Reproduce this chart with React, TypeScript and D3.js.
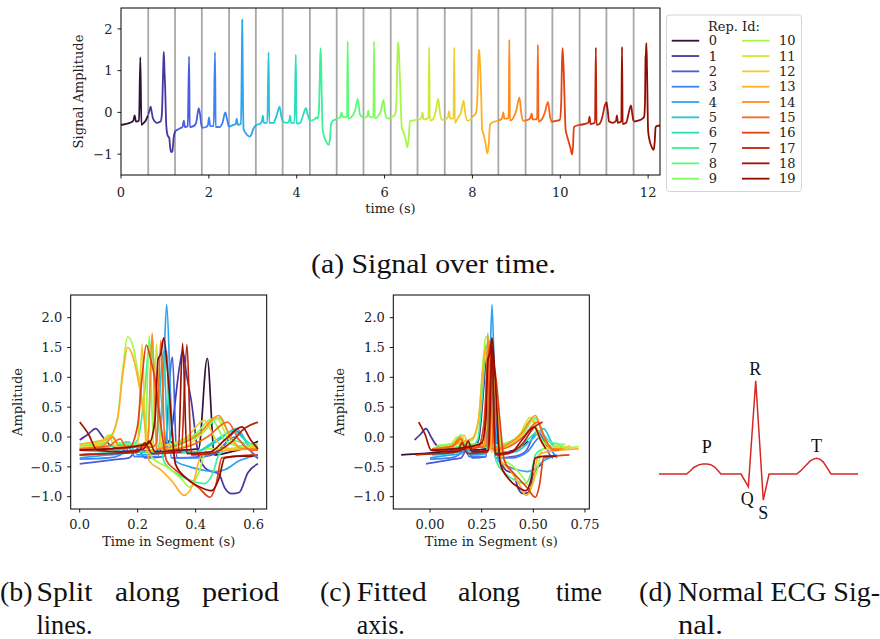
import React from 'react';
import * as d3 from 'd3';

// ---- Data: each repetition (heart beat) as [time within segment (s), amplitude] ----
const rep0: [number, number][] = [[0,-0.3],[0.1,-0.28],[0.2,-0.25],[0.28,-0.2],[0.31,-0.07],[0.34,-0.22],[0.41,-0.2],[0.44,1.32],[0.465,-0.3],[0.52,-0.25],[0.56,-0.2],[0.615,-0.07]];
const rep1: [number, number][] = [[0,-0.05],[0.03,0.05],[0.055,0.14],[0.08,0.0],[0.11,-0.15],[0.2,-0.25],[0.28,-0.22],[0.31,-0.05],[0.345,1.2],[0.355,1.45],[0.37,1.0],[0.385,0.6],[0.41,-0.3],[0.44,-0.55],[0.48,-0.62],[0.5,-0.85],[0.525,-0.95],[0.55,-0.93],[0.58,-0.6],[0.615,-0.45]];
const rep2: [number, number][] = [[0,-0.45],[0.05,-0.42],[0.12,-0.38],[0.17,-0.35],[0.2,-0.2],[0.225,-0.35],[0.29,-0.33],[0.32,1.34],[0.335,-0.35],[0.42,-0.33],[0.48,-0.25],[0.54,0.1],[0.57,-0.05],[0.6,-0.3],[0.615,-0.36]];
const rep3: [number, number][] = [[0,-0.37],[0.1,-0.35],[0.14,-0.3],[0.165,-0.12],[0.19,-0.33],[0.27,-0.33],[0.3,1.44],[0.315,-0.35],[0.4,-0.35],[0.47,-0.25],[0.535,0.0],[0.57,-0.15],[0.615,-0.35]];
const rep4: [number, number][] = [[0,-0.35],[0.1,-0.3],[0.15,-0.28],[0.175,-0.15],[0.2,-0.3],[0.27,-0.28],[0.29,1.2],[0.3,2.22],[0.315,0.5],[0.33,-0.4],[0.38,-0.5],[0.42,-0.55],[0.47,-0.58],[0.5,-0.55],[0.55,-0.4],[0.615,-0.3]];
const rep5: [number, number][] = [[0,-0.3],[0.1,-0.27],[0.14,-0.2],[0.16,-0.08],[0.18,-0.25],[0.26,-0.25],[0.29,1.44],[0.305,-0.25],[0.4,-0.25],[0.48,-0.05],[0.54,0.14],[0.58,-0.1],[0.615,-0.22]];
const rep6: [number, number][] = [[0,-0.22],[0.1,-0.25],[0.15,-0.2],[0.17,-0.08],[0.19,-0.25],[0.27,-0.25],[0.3,1.38],[0.315,-0.27],[0.4,-0.25],[0.47,-0.05],[0.53,0.1],[0.57,-0.05],[0.615,-0.2]];
const rep7: [number, number][] = [[0,-0.2],[0.1,-0.17],[0.15,-0.12],[0.17,-0.15],[0.2,-0.05],[0.225,0.8],[0.24,1.54],[0.255,1.26],[0.27,0.4],[0.29,-0.4],[0.33,-0.6],[0.38,-0.72],[0.43,-0.78],[0.46,-0.6],[0.48,-0.3],[0.52,-0.2],[0.615,-0.16]];
const rep8: [number, number][] = [[0,-0.15],[0.08,-0.12],[0.11,0.0],[0.13,-0.1],[0.2,-0.12],[0.235,-0.1],[0.25,1.7],[0.265,-0.15],[0.33,-0.12],[0.42,0.05],[0.48,0.32],[0.53,-0.05],[0.615,-0.13]];
const rep9: [number, number][] = [[0,-0.14],[0.08,-0.1],[0.11,0.04],[0.13,-0.1],[0.2,-0.12],[0.225,-0.1],[0.24,1.7],[0.255,-0.15],[0.33,-0.1],[0.4,0.05],[0.455,0.3],[0.5,-0.05],[0.55,-0.15],[0.615,-0.12]];
const rep10: [number, number][] = [[0,-0.12],[0.05,-0.1],[0.1,-0.05],[0.13,0.3],[0.15,1.2],[0.165,1.68],[0.185,1.5],[0.2,1.1],[0.22,0.5],[0.25,-0.35],[0.3,-0.5],[0.35,-0.7],[0.38,-0.84],[0.41,-0.6],[0.44,-0.2],[0.48,-0.2],[0.615,-0.16]];
const rep11: [number, number][] = [[0,-0.18],[0.08,-0.15],[0.115,0.0],[0.135,-0.17],[0.22,-0.15],[0.25,-0.12],[0.265,1.56],[0.28,-0.2],[0.35,-0.17],[0.42,0.05],[0.47,0.33],[0.51,0.0],[0.55,-0.18],[0.615,-0.16]];
const rep12: [number, number][] = [[0,-0.18],[0.07,-0.12],[0.1,0.03],[0.12,-0.15],[0.2,-0.15],[0.215,1.56],[0.23,-0.25],[0.29,-0.15],[0.37,0.0],[0.43,0.28],[0.47,-0.05],[0.52,-0.2],[0.615,-0.15]];
const rep13: [number, number][] = [[0,-0.12],[0.05,-0.08],[0.1,-0.02],[0.13,0.3],[0.15,1.1],[0.165,1.5],[0.18,1.4],[0.2,1.0],[0.22,0.4],[0.24,-0.4],[0.28,-0.55],[0.32,-0.75],[0.36,-0.98],[0.39,-0.8],[0.42,-0.3],[0.46,-0.25],[0.615,-0.2]];
const rep14: [number, number][] = [[0,-0.2],[0.08,-0.15],[0.115,0.0],[0.135,-0.15],[0.22,-0.15],[0.235,-0.1],[0.25,1.74],[0.265,-0.2],[0.33,-0.15],[0.41,0.05],[0.48,0.36],[0.52,0.0],[0.56,-0.2],[0.615,-0.2]];
const rep15: [number, number][] = [[0,-0.2],[0.1,-0.15],[0.14,-0.03],[0.16,-0.17],[0.25,-0.17],[0.265,-0.1],[0.28,1.62],[0.295,-0.22],[0.36,-0.18],[0.44,0.0],[0.51,0.25],[0.55,-0.05],[0.59,-0.22],[0.615,-0.22]];
const rep16: [number, number][] = [[0,-0.22],[0.1,-0.2],[0.17,-0.18],[0.2,0.2],[0.215,1.0],[0.23,1.54],[0.245,1.3],[0.26,0.96],[0.28,0.2],[0.3,-0.4],[0.33,-0.55],[0.37,-0.7],[0.41,-0.85],[0.45,-1.01],[0.47,-0.8],[0.49,-0.35],[0.615,-0.3]];
const rep17: [number, number][] = [[0,-0.3],[0.1,-0.28],[0.2,-0.25],[0.225,-0.1],[0.25,-0.28],[0.35,-0.25],[0.37,1.55],[0.385,-0.3],[0.45,-0.28],[0.52,-0.1],[0.57,0.15],[0.615,0.25]];
const rep18: [number, number][] = [[0,0.25],[0.03,0.05],[0.06,-0.22],[0.15,-0.25],[0.22,-0.2],[0.24,-0.07],[0.26,-0.25],[0.34,-0.22],[0.355,1.57],[0.37,-0.28],[0.45,-0.25],[0.5,-0.05],[0.56,0.17],[0.59,-0.05],[0.615,-0.2]];
const rep19: [number, number][] = [[0,-0.22],[0.1,-0.2],[0.2,-0.15],[0.24,-0.1],[0.26,0.3],[0.27,1.3],[0.28,1.4],[0.29,1.66],[0.305,1.0],[0.33,-0.45],[0.37,-0.7],[0.42,-0.85],[0.455,-0.9],[0.48,-0.7],[0.5,-0.35],[0.55,-0.32],[0.6,-0.32]];
const reps = [rep0, rep1, rep2, rep3, rep4, rep5, rep6, rep7, rep8, rep9, rep10, rep11, rep12, rep13, rep14, rep15, rep16, rep17, rep18, rep19];

// segment start times (period lines) in seconds
const periodBounds = [0, 0.62, 1.23, 1.84, 2.46, 3.07, 3.68, 4.30, 4.91, 5.52, 6.14, 6.75, 7.37, 7.98, 8.59, 9.21, 9.82, 10.44, 11.05, 11.67, 12.27];
// fitted time shift per repetition (s)
const fitShift = [-0.14, -0.075, -0.02, 0, 0, 0.01, 0, 0.03, 0.03, 0.04, 0.105, 0.015, 0.065, 0.105, 0.03, 0.01, 0.06, -0.07, -0.055, 0.01];

const repIds = ['0','1','2','3','4','5','6','7','8','9','10','11','12','13','14','15','16','17','18','19'];
const timeTicks = [0, 2, 4, 6, 8, 10, 12];
const ampTicks = [-1, 0, 1, 2];
const segAmpTicks = [-1, -0.5, 0, 0.5, 1, 1.5, 2];
const splitTicks = [0, 0.2, 0.4, 0.6];
const fitTicks = [0, 0.25, 0.5, 0.75];

// schematic normal ECG (normalized time, amplitude relative to R)
const ecgTime = [0, 0.139, 0.155, 0.175, 0.2, 0.22, 0.24, 0.26, 0.28, 0.295, 0.311, 0.412, 0.449, 0.486, 0.524, 0.553, 0.692, 0.71, 0.735, 0.76, 0.778, 0.792, 0.808, 0.825, 0.845, 0.864, 1.0];
const ecgAmp = [0, 0, 0.03, 0.07, 0.098, 0.106, 0.107, 0.1, 0.075, 0.04, 0, 0, -0.136, 1.0, -0.28, 0, 0, 0.03, 0.085, 0.14, 0.162, 0.168, 0.16, 0.13, 0.065, 0, 0];
const ecgWaves = ['P', 'Q', 'R', 'S', 'T'];
const ecgWaveIdx = [6, 12, 13, 14, 21];

const FONT = 'DejaVu Serif';
const CAP = 'Liberation Serif';
const FS = 13;

const color = (i: number) => (i === 0 ? '#30123b' : d3.interpolateTurbo(i / 19));
const fmtMinus = (s: string) => s.replace('-', '\u2212');

type Pt = [number, number];

function Axes({ xs, ys, xTicks, yTicks, xFmt, yFmt, xLabel, yLabel, xLabelY, yLabelX, xTickY, id, children }: any) {
  const [x0, x1] = xs.range();
  const [y1, y0] = ys.range();
  return (
    <g>
      <defs>
        <clipPath id={id}>
          <rect x={x0} y={y0} width={x1 - x0} height={y1 - y0} />
        </clipPath>
      </defs>
      <g clipPath={`url(#${id})`}>{children}</g>
      <rect x={x0} y={y0} width={x1 - x0} height={y1 - y0} fill="none" stroke="#000" strokeWidth={1} />
      {xTicks.map((v: number) => (
        <g key={'x' + v}>
          <line x1={xs(v)} x2={xs(v)} y1={y1} y2={y1 + 3.5} stroke="#000" strokeWidth={0.9} />
          <text x={xs(v)} y={xTickY} textAnchor="middle" style={{ fontFamily: FONT, fontSize: FS }} fill="#222">{fmtMinus(xFmt(v))}</text>
        </g>
      ))}
      {yTicks.map((v: number) => (
        <g key={'y' + v}>
          <line x1={x0 - 3.5} x2={x0} y1={ys(v)} y2={ys(v)} stroke="#000" strokeWidth={0.9} />
          <text x={x0 - 8.5} y={ys(v) + 4.7} textAnchor="end" style={{ fontFamily: FONT, fontSize: FS }} fill="#222">{fmtMinus(yFmt(v))}</text>
        </g>
      ))}
      <text x={(x0 + x1) / 2} y={xLabelY} textAnchor="middle" style={{ fontFamily: FONT, fontSize: FS }} fill="#222">{xLabel}</text>
      <text transform={`translate(${yLabelX},${(y0 + y1) / 2}) rotate(-90)`} textAnchor="middle" style={{ fontFamily: FONT, fontSize: FS }} fill="#222">{yLabel}</text>
    </g>
  );
}

export default function App() {
  const xa = d3.scaleLinear().domain([0, 12.27]).range([121, 660]);
  const ya = d3.scaleLinear().domain([-1.5, 2.5]).range([175, 8]);
  const xb = d3.scaleLinear().domain([-0.031, 0.645]).range([70.7, 266.7]);
  const yb = d3.scaleLinear().domain([-1.207, 2.38]).range([509, 295]);
  const xc = d3.scaleLinear().domain([-0.178, 0.771]).range([393.3, 589.3]);
  const xe = d3.scaleLinear().domain([0, 1]).range([659, 858]);
  const ye = d3.scaleLinear().domain([0, 1]).range([474, 380.7]);

  const mk = (fx: (d: Pt) => number, fy: (d: Pt) => number) =>
    d3.line<Pt>().x(fx).y(fy).curve(d3.curveMonotoneX);

  const ecgPts: Pt[] = ecgTime.map((t, i) => [t, ecgAmp[i]]);
  const ecgLine = d3.line<Pt>().x(d => xe(d[0])).y(d => ye(d[1]));
  const waveOffsets: Record<string, [number, number]> = { P: [0, -11.5], Q: [-1, 18.5], R: [-0.5, -6], S: [0, 19], T: [0, -6] };

  const fmtInt = (v: number) => String(v);
  const fmt1 = d3.format('.1f');
  const fmt2 = d3.format('.2f');

  return (
    <svg width={880} height={639} style={{ position: 'absolute', left: 0, top: 0, background: '#fff' }}>
      <rect width={880} height={639} fill="#fff" />
      {/* (a) signal over time */}
      <Axes xs={xa} ys={ya} xTicks={timeTicks} yTicks={ampTicks} xFmt={fmtInt} yFmt={fmtInt}
        xLabel="time (s)" yLabel="Signal Amplitude" xLabelY={213} yLabelX={83} xTickY={197} id="clipA">
        {periodBounds.slice(1, -1).map((b, i) => (
          <line key={'v' + i} x1={xa(b)} x2={xa(b)} y1={8} y2={175} stroke="#a8a8a8" strokeWidth={1.8} />
        ))}
        {reps.map((r, i) => (
          <path key={i} d={mk(d => xa(periodBounds[i] + d[0]), d => ya(d[1]))(r) || ''} fill="none" stroke={color(i)} strokeWidth={1.8} strokeLinejoin="round" />
        ))}
      </Axes>
      {/* legend */}
      <rect x={666.5} y={15} width={135} height={176.5} rx={3} fill="#fff" fillOpacity={0.8} stroke="#d4d4d4" strokeWidth={1} />
      <text x={734} y={30.5} textAnchor="middle" style={{ fontFamily: FONT, fontSize: FS }} fill="#222">Rep. Id:</text>
      {repIds.map((lab, i) => {
        const col = i < 10 ? 0 : 1;
        const row = i % 10;
        const cy = 40.7 + row * 15.33;
        const lx = col === 0 ? 671.7 : 742;
        return (
          <g key={'lg' + i}>
            <line x1={lx} x2={lx + 27.5} y1={cy} y2={cy} stroke={color(i)} strokeWidth={1.8} />
            <text x={lx + 37} y={cy + 4.7} style={{ fontFamily: FONT, fontSize: FS }} fill="#222">{lab}</text>
          </g>
        );
      })}
      <text x={311} y={273} style={{ fontFamily: CAP, fontSize: 27 }} textLength={245} lengthAdjust="spacingAndGlyphs" fill="#111">(a) Signal over time.</text>

      {/* (b) split along period lines */}
      <Axes xs={xb} ys={yb} xTicks={splitTicks} yTicks={segAmpTicks} xFmt={fmt1} yFmt={fmt1}
        xLabel="Time in Segment (s)" yLabel="Amplitude" xLabelY={546} yLabelX={21.5} xTickY={529} id="clipB">
        {reps.map((r, i) => (
          <path key={i} d={mk(d => xb(d[0]), d => yb(d[1]))(r) || ''} fill="none" stroke={color(i)} strokeWidth={1.7} strokeLinejoin="round" />
        ))}
      </Axes>

      {/* (c) fitted along time axis */}
      <Axes xs={xc} ys={yb} xTicks={fitTicks} yTicks={segAmpTicks} xFmt={fmt2} yFmt={fmt1}
        xLabel="Time in Segment (s)" yLabel="Amplitude" xLabelY={546} yLabelX={343.5} xTickY={529} id="clipC">
        {reps.map((r, i) => (
          <path key={i} d={mk(d => xc(d[0] + fitShift[i]), d => yb(d[1]))(r) || ''} fill="none" stroke={color(i)} strokeWidth={1.7} strokeLinejoin="round" />
        ))}
      </Axes>

      {/* (d) normal ECG schematic */}
      <path d={ecgLine(ecgPts) || ''} fill="none" stroke="#d42a26" strokeWidth={1.5} strokeLinejoin="miter" />
      {ecgWaves.map((w, k) => {
        const p = ecgPts[ecgWaveIdx[k]];
        const off = waveOffsets[w];
        return (
          <text key={w} x={xe(p[0]) + off[0]} y={ye(p[1]) + off[1]} textAnchor="middle" style={{ fontFamily: CAP, fontSize: 18 }} fill="#111">{w}</text>
        );
      })}

      {/* captions */}
      <g style={{ fontFamily: CAP, fontSize: 27 }} fill="#111">
        <text x={0} y={601} textLength={32.6} lengthAdjust="spacingAndGlyphs">(b)</text>
        <text x={36.5} y={601} textLength={56} lengthAdjust="spacingAndGlyphs">Split</text>
        <text x={115} y={601} textLength={65} lengthAdjust="spacingAndGlyphs">along</text>
        <text x={202} y={601} textLength={77} lengthAdjust="spacingAndGlyphs">period</text>
        <text x={36.5} y={634} textLength={56} lengthAdjust="spacingAndGlyphs">lines.</text>

        <text x={320} y={601} textLength={31} lengthAdjust="spacingAndGlyphs">(c)</text>
        <text x={356.7} y={601} textLength={70} lengthAdjust="spacingAndGlyphs">Fitted</text>
        <text x={458} y={601} textLength={62} lengthAdjust="spacingAndGlyphs">along</text>
        <text x={556} y={601} textLength={46} lengthAdjust="spacingAndGlyphs">time</text>
        <text x={356.7} y={634} textLength={48} lengthAdjust="spacingAndGlyphs">axis.</text>

        <text x={639} y={601} textLength={33} lengthAdjust="spacingAndGlyphs">(d)</text>
        <text x={678} y={601} textLength={202} lengthAdjust="spacingAndGlyphs">Normal ECG Sig-</text>
        <text x={678} y={634} textLength={45} lengthAdjust="spacingAndGlyphs">nal.</text>
      </g>
    </svg>
  );
}
